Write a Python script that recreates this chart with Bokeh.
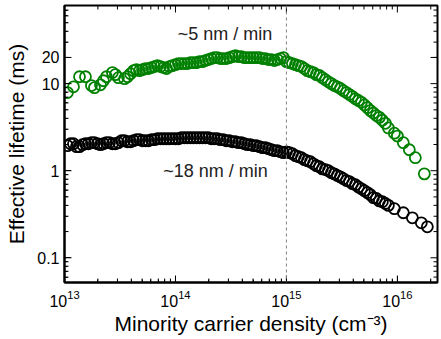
import math
from bokeh.plotting import figure
from bokeh.models import (LogAxis, FixedTicker, CustomJSTickFormatter, Span, Label,
                          Range1d)
from bokeh.embed import file_html
from bokeh.resources import INLINE

# ---- data ----
green_x = [1.064e13, 1.205e13, 1.365e13, 1.545e13, 1.750e13, 1.862e13, 2.109e13, 2.244e13, 2.388e13, 2.704e13,
           2.877e13, 3.062e13, 3.475e13, 3.698e13, 3.936e13, 4.188e13, 4.457e13, 4.742e13, 5.047e13, 5.370e13,
           5.715e13, 6.081e13, 6.471e13, 6.887e13, 7.328e13, 7.798e13, 8.299e13, 8.831e13, 9.397e13, 1.000e14,
           1.064e14, 1.132e14, 1.205e14, 1.282e14, 1.365e14, 1.452e14, 1.545e14, 1.644e14, 1.750e14, 1.862e14,
           1.982e14, 2.109e14, 2.244e14, 2.388e14, 2.541e14, 2.704e14, 2.877e14, 3.062e14, 3.266e14, 3.475e14,
           3.698e14, 3.936e14, 4.188e14, 4.457e14, 4.742e14, 5.047e14, 5.370e14, 5.715e14, 6.081e14, 6.471e14,
           6.887e14, 7.328e14, 7.798e14, 8.299e14, 8.831e14, 9.397e14, 1.000e15, 1.064e15, 1.132e15, 1.205e15,
           1.282e15, 1.365e15, 1.452e15, 1.545e15, 1.644e15, 1.750e15, 1.862e15, 1.982e15, 2.109e15, 2.244e15,
           2.388e15, 2.541e15, 2.704e15, 2.877e15, 3.062e15, 3.266e15, 3.475e15, 3.698e15, 3.936e15, 4.188e15,
           4.457e15, 4.742e15, 5.047e15, 5.370e15, 5.715e15, 6.081e15, 6.471e15, 6.887e15, 7.328e15, 7.798e15,
           8.299e15, 9.397e15, 1.000e16, 1.132e16, 1.282e16, 1.452e16, 1.750e16]
green_y = [7.9, 9.2, 12.0, 12.0, 9.5, 9.0, 9.7, 10.8, 12.0, 13.4,
           12.7, 11.7, 11.4, 12.0, 13.0, 14.1, 14.5, 14.1, 14.5, 14.9,
           14.9, 15.3, 15.7, 16.1, 15.7, 15.3, 14.9, 15.7, 16.1, 16.5,
           17.0, 17.0, 17.0, 17.0, 17.4, 17.4, 17.4, 17.9, 17.9, 18.4,
           18.9, 19.4, 19.9, 19.9, 19.4, 19.4, 19.4, 19.9, 20.4, 21.0,
           20.4, 20.4, 19.9, 19.9, 19.9, 19.9, 19.9, 19.9, 19.4, 19.4,
           18.9, 18.9, 18.4, 18.9, 19.4, 19.9, 17.9, 17.4, 17.0, 16.5,
           16.1, 15.7, 14.9, 14.1, 13.7, 13.4, 12.7, 12.4, 11.7, 11.1,
           10.5, 10.0, 9.5, 9.2, 8.8, 8.3, 7.9, 7.5, 7.1, 6.7,
           6.4, 6.1, 5.7, 5.3, 4.9, 4.6, 4.3, 4.1, 3.8, 3.5,
           3.1, 2.7, 2.5, 2.1, 1.74, 1.41, 0.92]

black_x = [1.064e13, 1.132e13, 1.205e13, 1.282e13, 1.365e13, 1.452e13, 1.545e13, 1.644e13, 1.750e13, 1.862e13,
           1.982e13, 2.109e13, 2.244e13, 2.388e13, 2.541e13, 2.704e13, 2.877e13, 3.062e13, 3.266e13, 3.475e13,
           3.698e13, 3.936e13, 4.188e13, 4.457e13, 4.742e13, 5.047e13, 5.370e13, 5.715e13, 6.081e13, 6.471e13,
           6.887e13, 7.328e13, 7.798e13, 8.299e13, 8.831e13, 9.397e13, 1.000e14, 1.064e14, 1.132e14, 1.205e14,
           1.282e14, 1.365e14, 1.452e14, 1.545e14, 1.644e14, 1.750e14, 1.862e14, 1.982e14, 2.109e14, 2.244e14,
           2.388e14, 2.541e14, 2.704e14, 2.877e14, 3.062e14, 3.266e14, 3.475e14, 3.698e14, 3.936e14, 4.188e14,
           4.457e14, 4.742e14, 5.047e14, 5.370e14, 5.715e14, 6.081e14, 6.471e14, 6.887e14, 7.328e14, 7.798e14,
           8.299e14, 8.831e14, 9.397e14, 1.000e15, 1.064e15, 1.132e15, 1.205e15, 1.282e15, 1.365e15, 1.452e15,
           1.545e15, 1.644e15, 1.750e15, 1.862e15, 1.982e15, 2.109e15, 2.244e15, 2.388e15, 2.541e15, 2.704e15,
           2.877e15, 3.062e15, 3.266e15, 3.475e15, 3.698e15, 3.936e15, 4.188e15, 4.457e15, 4.742e15, 5.047e15,
           5.370e15, 5.715e15, 6.081e15, 6.471e15, 6.887e15, 7.328e15, 7.798e15, 8.299e15,
           9.397e15, 1.132e16, 1.365e16, 1.644e16, 1.862e16]
black_y = [1.94, 2.04, 2.04, 1.89, 1.89, 1.99, 2.04, 2.04, 2.10, 2.10,
           2.04, 1.99, 2.04, 2.10, 2.10, 2.04, 2.04, 2.10, 2.21, 2.21,
           2.15, 2.15, 2.21, 2.27, 2.27, 2.21, 2.21, 2.21, 2.27, 2.27,
           2.33, 2.33, 2.33, 2.33, 2.33, 2.33, 2.33, 2.33, 2.39, 2.39,
           2.39, 2.39, 2.39, 2.39, 2.39, 2.39, 2.39, 2.39, 2.33, 2.33,
           2.33, 2.27, 2.27, 2.21, 2.21, 2.15, 2.15, 2.10, 2.10, 2.04,
           1.99, 1.99, 1.94, 1.94, 1.89, 1.84, 1.84, 1.79, 1.74, 1.70,
           1.70, 1.65, 1.61, 1.65, 1.61, 1.57, 1.49, 1.45, 1.41, 1.34,
           1.30, 1.27, 1.20, 1.14, 1.11, 1.05, 1.03, 1.00, 0.95, 0.92,
           0.88, 0.85, 0.81, 0.77, 0.75, 0.71, 0.69, 0.65, 0.62, 0.59,
           0.56, 0.53, 0.49, 0.48, 0.45, 0.44, 0.42, 0.40,
           0.366, 0.329, 0.288, 0.252, 0.227]

x_major = [1e13, 1e14, 1e15, 1e16]
x_minor = [m * d for d in [1e13, 1e14, 1e15, 1e16] for m in range(2, 10)]
y_major = [0.1, 1, 10, 20]
y_minor = [m * d for d in [0.01, 0.1, 1, 10] for m in range(2, 10)]

X_START, X_END = 1e13, 2.3e16
Y_START, Y_END = 0.052, 79

label_green = "~5 nm / min"
label_black = "~18 nm / min"

FONT = "Liberation Sans"
FRAME_W, FRAME_H = 373, 277

p = figure(output_backend="svg", toolbar_location=None,
           x_axis_type="log", y_axis_type="log",
           frame_width=FRAME_W, frame_height=FRAME_H,
           min_border_left=64, min_border_right=4, min_border_top=5, min_border_bottom=57,
           x_range=Range1d(X_START, X_END), y_range=Range1d(Y_START, Y_END))
p.grid.visible = False
p.outline_line_color = "black"
p.outline_line_width = 2

xt = FixedTicker(ticks=x_major, minor_ticks=x_minor)
yt = FixedTicker(ticks=y_major, minor_ticks=y_minor)

def style(ax):
    ax.axis_line_color = "black"
    ax.axis_line_width = 2
    ax.major_tick_in = 6
    ax.major_tick_out = 0
    ax.minor_tick_in = 3
    ax.minor_tick_out = 0
    ax.major_tick_line_color = "black"
    ax.minor_tick_line_color = "black"
    ax.major_tick_line_width = 1
    ax.minor_tick_line_width = 1
    ax.major_label_text_font = FONT
    ax.major_label_text_font_size = "16px"
    ax.major_label_text_color = "black"
    ax.axis_label_text_font = FONT
    ax.axis_label_text_font_size = "21px"
    ax.axis_label_text_font_style = "normal"
    ax.axis_label_text_color = "black"

xa = p.xaxis[0]
ya = p.yaxis[0]
style(xa); style(ya)
xa.ticker = xt
ya.ticker = yt
ya.formatter = CustomJSTickFormatter(code="return tick.toString();")
xa.axis_label = "Minority carrier density (cm\u207b\u00b3)"
ya.axis_label = "Effective lifetime (ms)"
xa.major_label_standoff = 7
xa.axis_label_standoff = 2
ya.major_label_standoff = 5
ya.axis_label_standoff = 6

# inward tick marks on all four sides, drawn as segments (pixel lengths -> log factors)
dx = (math.log10(X_END) - math.log10(X_START)) / FRAME_W
dy = (math.log10(Y_END) - math.log10(Y_START)) / FRAME_H
fx = lambda px: 10 ** (px * dx)
fy = lambda px: 10 ** (px * dy)

xs_in = lambda ts: [t for t in ts if X_START <= t <= X_END]
ys_in = lambda ts: [t for t in ts if Y_START <= t <= Y_END]

for ticks, length in ((xs_in(x_major), 7), (xs_in(x_minor), 4)):
    n = len(ticks)
    p.segment(x0=ticks, x1=ticks, y0=[Y_START / fy(1)] * n, y1=[Y_START * fy(length)] * n,
              line_color="black", line_width=1)
    p.segment(x0=ticks, x1=ticks, y0=[Y_END * fy(1)] * n, y1=[Y_END / fy(length)] * n,
              line_color="black", line_width=1)
for ticks, length in ((ys_in(y_major), 7), (ys_in(y_minor), 4)):
    n = len(ticks)
    p.segment(y0=ticks, y1=ticks, x0=[X_START / fx(1)] * n, x1=[X_START * fx(length)] * n,
              line_color="black", line_width=1)
    p.segment(y0=ticks, y1=ticks, x0=[X_END * fx(1)] * n, x1=[X_END / fx(length)] * n,
              line_color="black", line_width=1)

p.add_layout(Span(location=1e15, dimension="height", line_color="#808080",
                  line_width=1, line_dash="3 3"))

p.scatter(green_x, green_y, size=11, marker="circle", fill_color=None,
          line_color="#008000", line_width=1.8)
p.scatter(black_x, black_y, size=11, marker="circle", fill_color=None,
          line_color="black", line_width=1.8)

p.add_layout(Label(x=2.8e14, y=37.0, text=label_green, text_font=FONT,
                   text_font_size="18px", text_align="center", text_baseline="middle",
                   text_color="#222222"))
p.add_layout(Label(x=2.3e14, y=1.0, text=label_black, text_font=FONT,
                   text_font_size="18px", text_align="center", text_baseline="middle",
                   text_color="#222222"))

open("out.html", "w").write(file_html(p, INLINE))
